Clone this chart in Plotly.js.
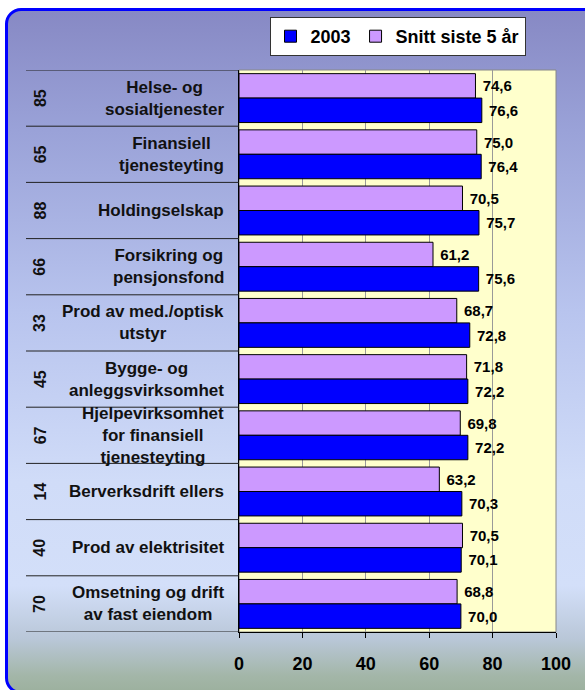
<!DOCTYPE html>
<html>
<head>
<meta charset="utf-8">
<script src="https://cdn.plot.ly/plotly-3.0.1.min.js"></script>
<style>
  html, body { margin: 0; padding: 0; background: #ffffff; }
  #wrap { position: relative; width: 585px; height: 690px; overflow: hidden; }
  #frame {
    position: absolute; left: 5px; top: 8px; width: 600px; height: 680px;
    border: 3px solid #0000ff; border-radius: 16px;
    background: linear-gradient(to bottom, #8789c4 0px, #9aa2d8 120px, #b8c4ee 300px, #d0dcf8 470px, #d3dff9 575px, #b9c7d8 628px, #a3b6a8 665px, #98ad98 690px);
  }
  #chart { position: absolute; left: 0; top: 0; width: 585px; height: 690px; }
</style>
</head>
<body>
<div id="wrap">
  <div id="frame"></div>
  <div id="chart"></div>
</div>
<script>
const codes = ["85", "65", "88", "66", "33", "45", "67", "14", "40", "70"];
const names = [
  "Helse- og<br>sosialtjenester",
  "Finansiell<br>tjenesteyting",
  "Holdingselskap",
  "Forsikring og<br>pensjonsfond",
  "Prod av med./optisk<br>utstyr",
  "Bygge- og<br>anleggsvirksomhet",
  "Hjelpevirksomhet<br>for finansiell<br>tjenesteyting",
  "Berverksdrift ellers",
  "Prod av elektrisitet",
  "Omsetning og drift<br>av fast eiendom"
];
const snitt = [74.6, 75.0, 70.5, 61.2, 68.7, 71.8, 69.8, 63.2, 70.5, 68.8];
const y2003 = [76.6, 76.4, 75.7, 75.6, 72.8, 72.2, 72.2, 70.3, 70.1, 70.0];
const xTicks = [0, 20, 40, 60, 80, 100];

const FONT = "'Liberation Sans', Arial, sans-serif";

const traces = [
  {
    type: 'bar', orientation: 'h', name: 'Snitt siste 5 år',
    y: codes, x: snitt, legendrank: 2,
    marker: { color: '#cc99ff', line: { color: '#000000', width: 1 } },
    texttemplate: ' %{x:.1f}', textposition: 'outside', cliponaxis: false,
    constraintext: 'none',
    textfont: { family: FONT, size: 15, color: '#000000', weight: 'bold' },
    hoverinfo: 'skip'
  },
  {
    type: 'bar', orientation: 'h', name: '2003',
    y: codes, x: y2003, legendrank: 1,
    marker: { color: '#0000ff', line: { color: '#000000', width: 1 } },
    texttemplate: ' %{x:.1f}', textposition: 'outside', cliponaxis: false,
    constraintext: 'none',
    textfont: { family: FONT, size: 15, color: '#000000', weight: 'bold' },
    hoverinfo: 'skip'
  }
];

const W = 585, H = 690, L = 239, R = 29, T = 70, B = 58;
const pw = W - L - R;
const px = v => (v - L) / pw;

const annotations = [];
const shapes = [];
codes.forEach((c, i) => {
  annotations.push({
    xref: 'paper', yref: 'y', x: px(226), y: i, xanchor: 'right', yanchor: 'middle',
    text: names[i], align: 'center', showarrow: false,
    font: { family: FONT, size: 17, color: '#111111', weight: 'bold' }
  });
  annotations.push({
    xref: 'paper', yref: 'y', x: px(40), y: i, xanchor: 'center', yanchor: 'middle',
    text: c, textangle: -90, showarrow: false,
    font: { family: FONT, size: 16, color: '#111111', weight: 'bold' }
  });
});
for (let i = 0; i <= codes.length; i++) {
  shapes.push({
    type: 'line', xref: 'paper', yref: 'y', x0: px(26), x1: 0, y0: i - 0.5, y1: i - 0.5,
    line: { color: '#222222', width: 1 }
  });
}
shapes.push({
  type: 'rect', xref: 'paper', yref: 'paper', x0: 0, x1: 1, y0: 0, y1: 1,
  line: { color: '#888888', width: 1 }, layer: 'below'
});

const layout = {
  width: W, height: H,
  margin: { l: L, r: R, t: T, b: B, pad: 0 },
  paper_bgcolor: 'rgba(0,0,0,0)',
  plot_bgcolor: '#ffffcc',
  separators: ', ',
  barmode: 'group',
  bargap: 0.13,
  bargroupgap: 0,
  font: { family: FONT, color: '#000000' },
  showlegend: true,
  legend: {
    orientation: 'h', x: 0.5, xanchor: 'center', y: (H - B - 17) / (H - T - B), yanchor: 'top',
    bgcolor: '#ffffff', bordercolor: '#333333', borderwidth: 1,
    font: { family: FONT, size: 18, color: '#000000', weight: 'bold' },
    itemwidth: 30, tracegroupgap: 0
  },
  xaxis: {
    range: [0, 100], tickvals: xTicks, ticktext: xTicks.map(String),
    showgrid: true, gridcolor: '#999999', gridwidth: 1,
    showline: true, linecolor: '#000000', linewidth: 1,
    ticks: 'outside', ticklen: 5, tickcolor: '#000000',
    ticklabelstandoff: 10,
    tickfont: { family: FONT, size: 18, color: '#000000', weight: 'bold' },
    zeroline: false, fixedrange: true
  },
  yaxis: {
    type: 'category', categoryorder: 'array', categoryarray: codes,
    range: [codes.length - 0.5, -0.5],
    showticklabels: false, ticks: '', showgrid: false,
    showline: true, linecolor: '#000000', linewidth: 1,
    zeroline: false, fixedrange: true
  },
  annotations: annotations,
  shapes: shapes
};

Plotly.newPlot('chart', traces, layout, { displayModeBar: false, staticPlot: true });
</script>
</body>
</html>
